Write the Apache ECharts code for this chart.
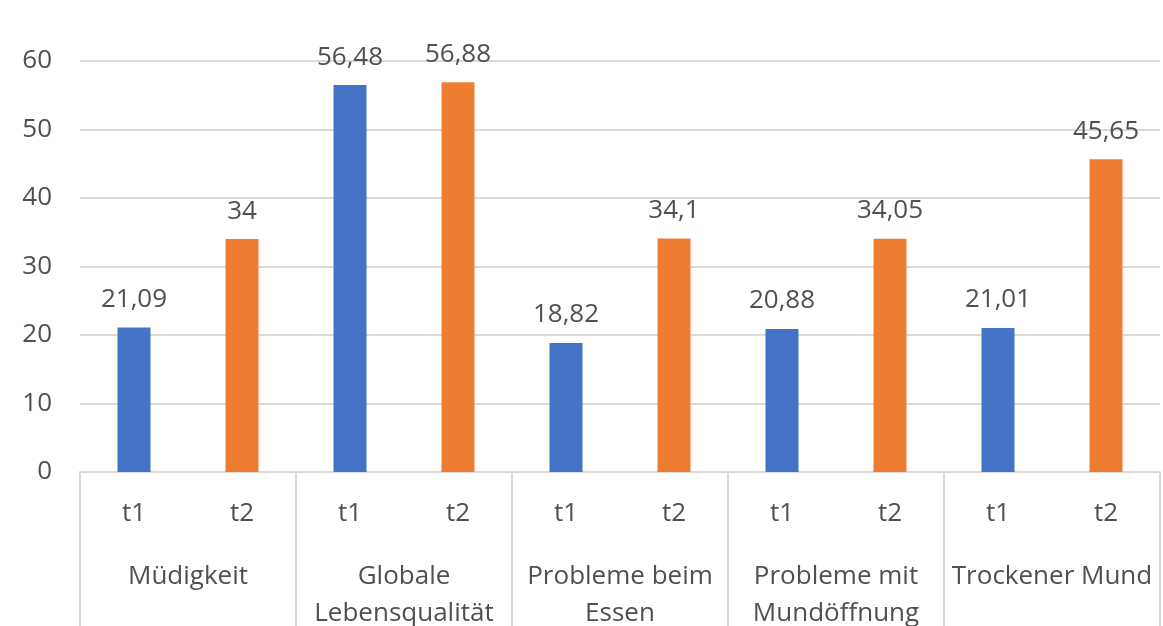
<!DOCTYPE html>
<html>
<head>
<meta charset="utf-8">
<script src="https://cdn.jsdelivr.net/npm/echarts@6/dist/echarts.min.js"></script>
<style>
  html, body { margin: 0; padding: 0; background: #ffffff; }
  #chart { width: 1163px; height: 626px; }
</style>
</head>
<body>
<div id="chart"></div>
<script>
// Group names (lower axis level) and measurement points (upper axis level)
const groups = ['Müdigkeit', 'Globale\nLebensqualität', 'Probleme beim\nEssen', 'Probleme mit\nMundöffnung', 'Trockener Mund'];
const timepoints = ['t1', 't2'];
const t1Values = [21.09, 56.48, 18.82, 20.88, 21.01];
const t2Values = [34, 56.88, 34.1, 34.05, 45.65];
const yTicks = { min: 0, max: 60, interval: 10 };

// Flatten into one category per bar: t1, t2, t1, t2, ...
const categories = [];
const blueData = [];
const orangeData = [];
groups.forEach((g, i) => {
  categories.push(timepoints[0], timepoints[1]);
  blueData.push(t1Values[i], '-');
  orangeData.push('-', t2Values[i]);
});

const textColor = '#505050';
const lineColor = '#D9D9D9';
const fontFamily = '"Open Sans", "Noto Sans", sans-serif';
const fontSize = 26;

const fmt = p => String(p.value).replace('.', ',');

const chart = echarts.init(document.getElementById('chart'));
chart.setOption({
  animation: false,
  grid: { left: 80, right: 3, top: 61, bottom: 154, outerBoundsMode: 'none', containLabel: false },
  xAxis: [
    {
      type: 'category',
      data: categories,
      position: 'bottom',
      axisLine: { show: true, lineStyle: { color: lineColor, width: 2 } },
      axisTick: { show: false },
      axisLabel: { color: textColor, fontSize, fontFamily, margin: 29, interval: 0 }
    },
    {
      type: 'category',
      data: groups,
      position: 'bottom',
      axisLine: { show: false },
      axisTick: { show: true, interval: 0, length: 170, lineStyle: { color: lineColor, width: 2 } },
      axisLabel: { color: textColor, fontSize, fontFamily, margin: 86, interval: 0, lineHeight: 37 }
    }
  ],
  yAxis: {
    type: 'value',
    min: yTicks.min,
    max: yTicks.max,
    interval: yTicks.interval,
    axisLine: { show: false },
    axisTick: { show: false },
    splitLine: { lineStyle: { color: lineColor, width: 2 } },
    axisLabel: { color: textColor, fontSize, fontFamily, margin: 28, padding: [7, 0, 0, 0] }
  },
  series: [
    {
      name: 't1',
      type: 'bar',
      data: blueData,
      barWidth: 33,
      barGap: '-100%',
      itemStyle: { color: '#4472C4' },
      label: { show: true, position: 'top', distance: 15, color: textColor, fontSize, fontFamily, formatter: fmt }
    },
    {
      name: 't2',
      type: 'bar',
      data: orangeData,
      barWidth: 33,
      barGap: '-100%',
      itemStyle: { color: '#ED7D31' },
      label: { show: true, position: 'top', distance: 15, color: textColor, fontSize, fontFamily, formatter: fmt }
    }
  ]
});
</script>
</body>
</html>
